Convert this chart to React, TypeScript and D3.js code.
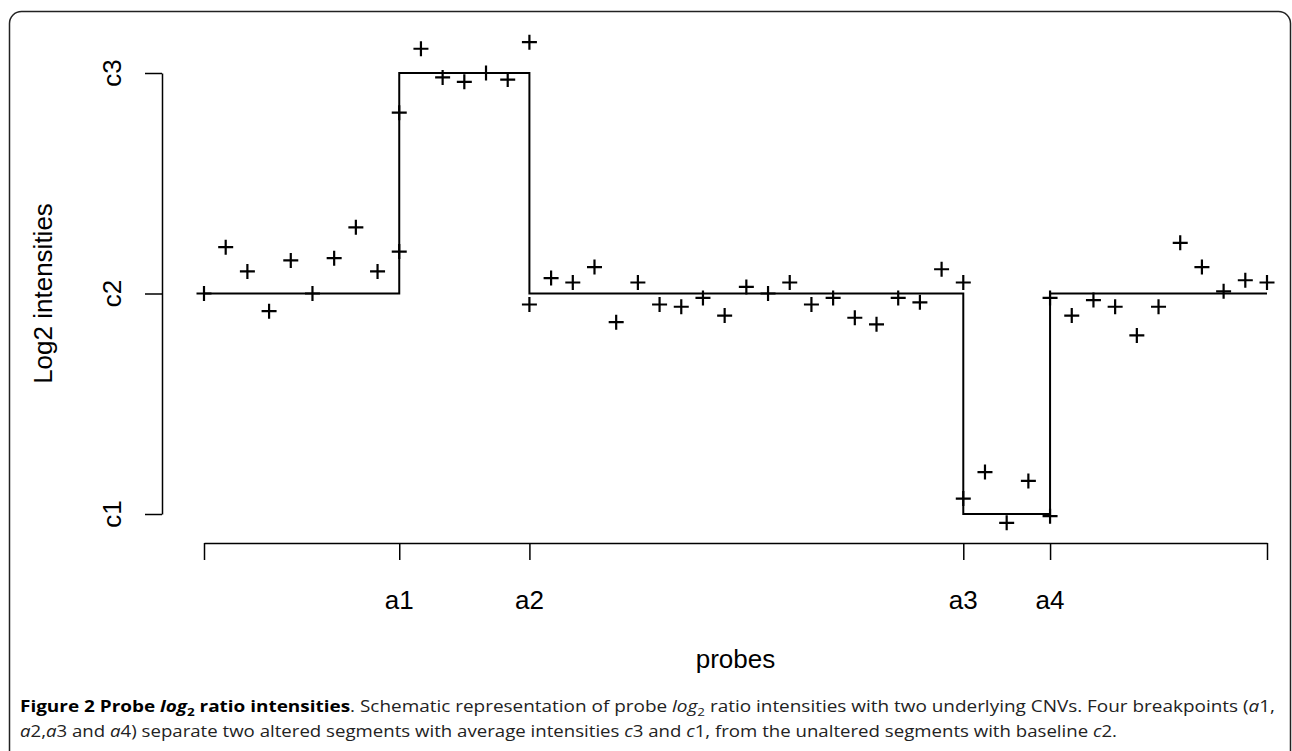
import { useRef, useEffect } from 'react';
import * as d3 from 'd3';

// probe values, one array per segment (breakpoint probes appear in both neighbours)
const seg1Values = [2.0, 2.21, 2.1, 1.92, 2.15, 2.0, 2.16, 2.3, 2.1, 2.19];
const seg2Values = [2.82, 3.11, 2.98, 2.96, 3.0, 2.97, 3.14];
const seg3Values = [1.95, 2.07, 2.05, 2.12, 1.87, 2.05, 1.95, 1.94, 1.98, 1.9, 2.03, 2.0, 2.05, 1.95, 1.98, 1.89, 1.86, 1.98, 1.96, 2.11, 2.05];
const seg4Values = [1.07, 1.19, 0.96, 1.15, 0.99];
const seg5Values = [1.98, 1.9, 1.97, 1.94, 1.81, 1.94, 2.23, 2.12, 2.01, 2.06, 2.05];

const segmentStarts = [0, 9, 15, 35, 39];
const segmentLevels = [2, 3, 2, 1, 2];
const lastProbe = 49;

const levelValues = [1, 2, 3];
const levelLabels = ['c1', 'c2', 'c3'];

const xTickValues = [0, 9, 15, 35, 39, 49];
const xTickLabels = ['', 'a1', 'a2', 'a3', 'a4', ''];

const FONT = '"Liberation Sans", Arial, Helvetica, sans-serif';
const CAPTION_FONT = '"Open Sans", "Noto Sans", sans-serif';

const App = () => {
  const svgRef = useRef<SVGSVGElement | null>(null);

  useEffect(() => {
    if (!svgRef.current) return;
    const svg = d3.select(svgRef.current);
    svg.selectAll('*').remove();

    const W = 1292;
    const H = 751;

    // figure frame
    svg.append('rect')
      .attr('x', 9.5)
      .attr('y', 11.5)
      .attr('width', 1281)
      .attr('height', 800)
      .attr('rx', 12)
      .attr('fill', 'none')
      .attr('stroke', '#222')
      .attr('stroke-width', 1.5);

    const x = d3.scaleLinear().domain([0, lastProbe]).range([204, 1267]);
    const y = d3.scaleLinear().domain([1, 3]).range([514, 73]);

    const segments = [seg1Values, seg2Values, seg3Values, seg4Values, seg5Values];
    const points = segments.flatMap((vals, s) =>
      vals.map((v, i) => ({ idx: segmentStarts[s] + i, value: v }))
    );

    // y axis
    const yAxis = svg.append('g')
      .attr('transform', 'translate(162,0)')
      .call(d3.axisLeft(y).tickValues(levelValues).tickSize(17).tickSizeOuter(0).tickFormat(() => ''));
    yAxis.select('.domain').attr('stroke', '#000').attr('stroke-width', 1.5);
    yAxis.selectAll('line').attr('stroke', '#000').attr('stroke-width', 1.5);

    yAxis.selectAll('.lvl')
      .data(levelValues)
      .enter()
      .append('text')
      .attr('class', 'lvl')
      .attr('transform', d => `translate(-41,${y(d)}) rotate(-90)`)
      .attr('text-anchor', 'middle')
      .attr('font-family', FONT)
      .attr('font-size', 26)
      .attr('fill', '#000')
      .text((d, i) => levelLabels[i]);

    // x axis
    const xAxis = svg.append('g')
      .attr('transform', 'translate(0,543)')
      .call(d3.axisBottom(x).tickValues(xTickValues).tickSize(17).tickSizeOuter(0).tickFormat(() => ''));
    xAxis.select('.domain').attr('stroke', '#000').attr('stroke-width', 1.5);
    xAxis.selectAll('line').attr('stroke', '#000').attr('stroke-width', 1.5);

    xAxis.selectAll('.bp')
      .data(xTickValues)
      .enter()
      .append('text')
      .attr('class', 'bp')
      .attr('x', d => x(d))
      .attr('y', 66)
      .attr('text-anchor', 'middle')
      .attr('font-family', FONT)
      .attr('font-size', 26)
      .attr('fill', '#000')
      .text((d, i) => xTickLabels[i]);

    // axis titles
    svg.append('text')
      .attr('transform', `translate(52,${y(2)}) rotate(-90)`)
      .attr('text-anchor', 'middle')
      .attr('font-family', FONT)
      .attr('font-size', 26)
      .text('Log2 intensities');

    svg.append('text')
      .attr('x', (x(0) + x(lastProbe)) / 2)
      .attr('y', 668)
      .attr('text-anchor', 'middle')
      .attr('font-family', FONT)
      .attr('font-size', 26)
      .text('probes');

    // segment step line
    const stepData = segmentStarts.map((s, i) => ({ idx: s, value: segmentLevels[i] }));
    stepData.push({ idx: lastProbe, value: segmentLevels[segmentLevels.length - 1] });

    const line = d3.line<{ idx: number; value: number }>()
      .curve(d3.curveStepAfter)
      .x(d => x(d.idx))
      .y(d => y(d.value));

    svg.append('path')
      .datum(stepData)
      .attr('fill', 'none')
      .attr('stroke', '#000')
      .attr('stroke-width', 2)
      .attr('d', line);

    // probe markers (pch = 3)
    const cross = d3.symbol().type(d3.symbolCross);
    const arm = 7.5;
    svg.selectAll('.probe')
      .data(points)
      .enter()
      .append('path')
      .attr('class', 'probe')
      .attr('transform', d => `translate(${x(d.idx)},${y(d.value)})`)
      .attr('d', `M${-arm},0H${arm}M0,${-arm}V${arm}`)
      .attr('stroke', '#000')
      .attr('stroke-width', 2.2)
      .attr('fill', 'none');
    void cross;

    // caption
    const cap1 = svg.append('text')
      .attr('x', 20)
      .attr('y', 712)
      .attr('font-family', CAPTION_FONT)
      .attr('font-size', 15.5)
      .attr('fill', '#222')
      .attr('textLength', 1255)
      .attr('lengthAdjust', 'spacingAndGlyphs');
    cap1.append('tspan').attr('font-weight', 'bold').attr('fill', '#000').text('Figure 2 Probe ');
    cap1.append('tspan').attr('font-weight', 'bold').attr('font-style', 'italic').attr('fill', '#000').text('log');
    cap1.append('tspan').attr('font-weight', 'bold').attr('fill', '#000').attr('font-size', 11).attr('dy', 4).text('2');
    cap1.append('tspan').attr('font-weight', 'bold').attr('fill', '#000').attr('dy', -4).text(' ratio intensities');
    cap1.append('tspan').text('. Schematic representation of probe ');
    cap1.append('tspan').attr('font-style', 'italic').text('log');
    cap1.append('tspan').attr('font-size', 11).attr('dy', 4).text('2');
    cap1.append('tspan').attr('dy', -4).text(' ratio intensities with two underlying CNVs. Four breakpoints (');
    cap1.append('tspan').attr('font-style', 'italic').text('a');
    cap1.append('tspan').text('1,');

    const cap2 = svg.append('text')
      .attr('x', 20)
      .attr('y', 737)
      .attr('font-family', CAPTION_FONT)
      .attr('font-size', 15.5)
      .attr('fill', '#222')
      .attr('textLength', 1097)
      .attr('lengthAdjust', 'spacingAndGlyphs');
    const parts2: [string, boolean][] = [
      ['a', true], ['2,', false], ['a', true], ['3 and ', false], ['a', true],
      ['4) separate two altered segments with average intensities ', false],
      ['c', true], ['3 and ', false], ['c', true],
      ['1, from the unaltered segments with baseline ', false], ['c', true], ['2.', false],
    ];
    parts2.forEach(([t, it]) => {
      cap2.append('tspan').attr('font-style', it ? 'italic' : 'normal').text(t);
    });

    svg.attr('width', W).attr('height', H);
  }, []);

  return (
    <div style={{ position: 'absolute', left: 0, top: 0, width: 1292, height: 751, overflow: 'hidden', background: '#fff' }}>
      <svg ref={svgRef} width={1292} height={751} style={{ display: 'block' }} />
    </div>
  );
};

export default App;
